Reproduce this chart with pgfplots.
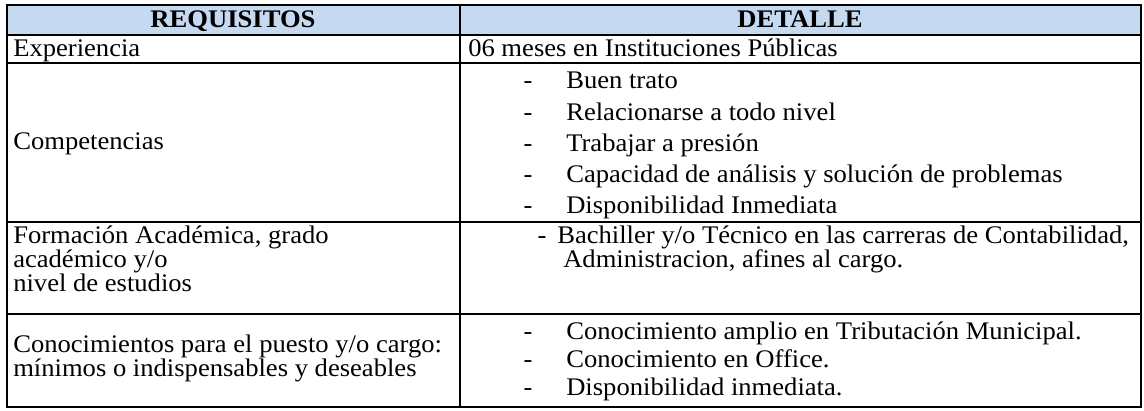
\documentclass[border=0pt]{standalone}
\usepackage{pgfplots}
\pgfplotsset{compat=1.18}
\usepackage{fontspec}
\setmainfont[FakeStretch=1.05]{Liberation Serif}
\definecolor{headblue}{HTML}{C5D9F1}
\begin{document}
\begin{tikzpicture}[cell/.style={font=\fontsize{19}{22}\selectfont, inner sep=0pt, anchor=base west},
  hcell/.style={font=\fontsize{19}{22}\selectfont\bfseries, inner sep=0pt, anchor=base}]
\begin{axis}[width=858pt,height=307.5pt,scale only axis,
  xmin=0,xmax=1144,ymin=0,ymax=410,y dir=reverse,hide axis,clip=false]
\fill[white] (axis cs:0,0) rectangle (axis cs:1144,410);
\fill[headblue] (axis cs:7,5) rectangle (axis cs:1141,35);
% grid lines
\addplot[black,line width=1.5pt,mark=none,line join=miter] coordinates {(7,5)(1141,5)(1141,407)(7,407)(7,5)(1141,5)};
\addplot[black,line width=1.5pt,mark=none] coordinates {(7,35)(1141,35)};
\addplot[black,line width=1.5pt,mark=none] coordinates {(7,63)(1141,63)};
\addplot[black,line width=1.5pt,mark=none] coordinates {(7,222)(1141,222)};
\addplot[black,line width=1.5pt,mark=none] coordinates {(7,314)(1141,314)};
\addplot[black,line width=1.5pt,mark=none] coordinates {(460,5)(460,407)};
% header
\node[hcell] at (axis cs:233,28) {REQUISITOS};
\node[hcell] at (axis cs:800,28) {DETALLE};
% left column
\node[cell] at (axis cs:13,56) {Experiencia};
\node[cell] at (axis cs:13,149) {Competencias};
\node[cell] at (axis cs:13,243) {Formación Académica, grado};
\node[cell] at (axis cs:13,267) {académico y/o};
\node[cell] at (axis cs:13,291) {nivel de estudios};
\node[cell] at (axis cs:13,352) {Conocimientos para el puesto y/o cargo:};
\node[cell] at (axis cs:13,376) {mínimos o indispensables y deseables};
% right column
\node[cell] at (axis cs:468,56) {06 meses en Instituciones Públicas};
\node[cell,anchor=base] at (axis cs:528,89) {-};
\node[cell] at (axis cs:566,89) {Buen trato};
\node[cell,anchor=base] at (axis cs:528,120) {-};
\node[cell] at (axis cs:566,120) {Relacionarse a todo nivel};
\node[cell,anchor=base] at (axis cs:528,151) {-};
\node[cell] at (axis cs:566,151) {Trabajar a presión};
\node[cell,anchor=base] at (axis cs:528,182) {-};
\node[cell] at (axis cs:566,182) {Capacidad de análisis y solución de problemas};
\node[cell,anchor=base] at (axis cs:528,213) {-};
\node[cell] at (axis cs:566,213) {Disponibilidad Inmediata};
\node[cell,anchor=base] at (axis cs:542,243) {-};
\node[cell] at (axis cs:557,243) {Bachiller y/o Técnico en las carreras de Contabilidad,};
\node[cell] at (axis cs:563,267) {Administracion, afines al cargo.};
\node[cell,anchor=base] at (axis cs:528,339) {-};
\node[cell] at (axis cs:566,339) {Conocimiento amplio en Tributación Municipal.};
\node[cell,anchor=base] at (axis cs:528,367) {-};
\node[cell] at (axis cs:566,367) {Conocimiento en Office.};
\node[cell,anchor=base] at (axis cs:528,395) {-};
\node[cell] at (axis cs:566,395) {Disponibilidad inmediata.};
\end{axis}
\end{tikzpicture}
\end{document}
